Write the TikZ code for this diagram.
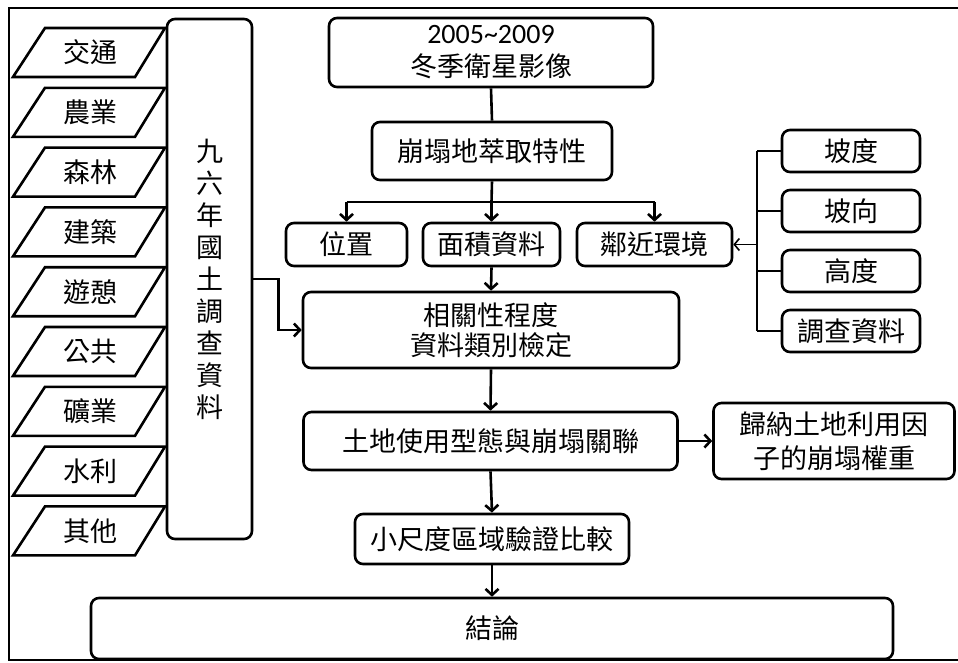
\documentclass[tikz,border=0pt]{standalone}
\usepackage{fontspec}
\setmainfont{Noto Sans CJK TC}
\newfontfamily\latinfont{Carlito}
\usetikzlibrary{arrows.meta}
\begin{document}
\begin{tikzpicture}[x=1pt,y=-1pt,
  box/.style={draw, line width=2.6pt, rounded corners=8pt, inner sep=0pt, align=center, font=\fontsize{27}{31}\selectfont},
  arr/.style={line width=2.6pt, -{Straight Barb[length=6pt,width=13pt]}},
  plainline/.style={line width=2.6pt},
  thinline/.style={line width=1.6pt},
  para/.style={draw, line width=2.6pt, line join=miter},
  lab/.style={font=\fontsize{27}{31}\selectfont, inner sep=0pt}]
\useasboundingbox (0,0) rectangle (958,662);
\draw[line width=2.6pt] (9,8) rectangle (966,660);

% left parallelograms
\foreach \i/\t in {0/交通,1/農業,2/森林,3/建築,4/遊憩,5/公共,6/礦業,7/水利,8/其他}{
  \pgfmathsetmacro\yc{52.5+59.8*\i}
  \draw[para] (45,\yc-24.5) -- (165,\yc-24.5) -- (135,\yc+24.5) -- (13,\yc+24.5) -- cycle;
  \node[lab] (p\i) at (90,\yc) {\t};
}

% tall survey box
\node[box, minimum width=85pt, minimum height=520pt, font=\fontsize{27}{32}\selectfont] (survey) at (209.5,279)
  {九\\六\\年\\國\\土\\調\\查\\資\\料};

% main column
\node[box, minimum width=324pt, minimum height=69pt, font=\fontsize{27}{33}\selectfont] (top) at (491,52.5)
  {{\latinfont\fontsize{28}{33}\selectfont 2005\textasciitilde 2009}\\冬季衛星影像};
\node[box, minimum width=240pt, minimum height=58pt] (extract) at (492,151) {崩塌地萃取特性};
\node[box, minimum width=121pt, minimum height=43pt] (pos) at (346.5,244.5) {位置};
\node[box, minimum width=137pt, minimum height=43pt] (area) at (491.5,244.5) {面積資料};
\node[box, minimum width=155pt, minimum height=43pt] (env) at (654.5,244.5) {鄰近環境};
\node[box, minimum width=376pt, minimum height=76pt, font=\fontsize{27}{30}\selectfont] (corr) at (491,330)
  {相關性程度\\資料類別檢定};
\node[box, minimum width=374pt, minimum height=58pt] (land) at (490.5,441) {土地使用型態與崩塌關聯};
\node[box, minimum width=241pt, minimum height=76pt, font=\fontsize{27}{34}\selectfont] (induce) at (834,441)
  {歸納土地利用因\\子的崩塌權重};
\node[box, minimum width=274pt, minimum height=50pt] (small) at (492,539) {小尺度區域驗證比較};
\node[box, minimum width=802pt, minimum height=61pt] (concl) at (492,628.5) {結論};

% right column
\node[box, minimum width=138pt, minimum height=42pt] (slope) at (851,151) {坡度};
\node[box, minimum width=138pt, minimum height=42pt] (aspect) at (851,211) {坡向};
\node[box, minimum width=138pt, minimum height=42pt] (height) at (851,271) {高度};
\node[box, minimum width=138pt, minimum height=42pt] (sdata) at (851,331) {調查資料};

% connectors
\coordinate (split) at (491.5,202);
\coordinate (bk) at (757,244.5);
\draw[plainline] (top.south) -- (extract.north);
\draw[plainline] (extract.south) -- (split);
\draw[plainline] (pos.north |- split) -- (env.north |- split);
\draw[arr] (pos.north |- split) -- (pos.north);
\draw[arr] (split) -- (area.north);
\draw[arr] (env.north |- split) -- (env.north);
\draw[arr] (area.south) -- (corr.north);
\draw[arr] (survey.east) -- ++(25,0) |- (corr.west);
\draw[arr] (corr.south) -- (land.north);
\draw[arr] (land.east) -- (induce.west);
\draw[arr] (land.south) -- (small.north);
\draw[arr] (small.south) -- (concl.north);

\draw[thinline] (bk |- slope.west) -- (bk |- sdata.west);
\draw[thinline] (bk |- slope.west) -- (slope.west);
\draw[thinline] (bk |- aspect.west) -- (aspect.west);
\draw[thinline] (bk |- height.west) -- (height.west);
\draw[thinline] (bk |- sdata.west) -- (sdata.west);
\draw[thinline, -{Straight Barb[length=5pt,width=12pt]}] (bk) -- (env.east);
\end{tikzpicture}
\end{document}
